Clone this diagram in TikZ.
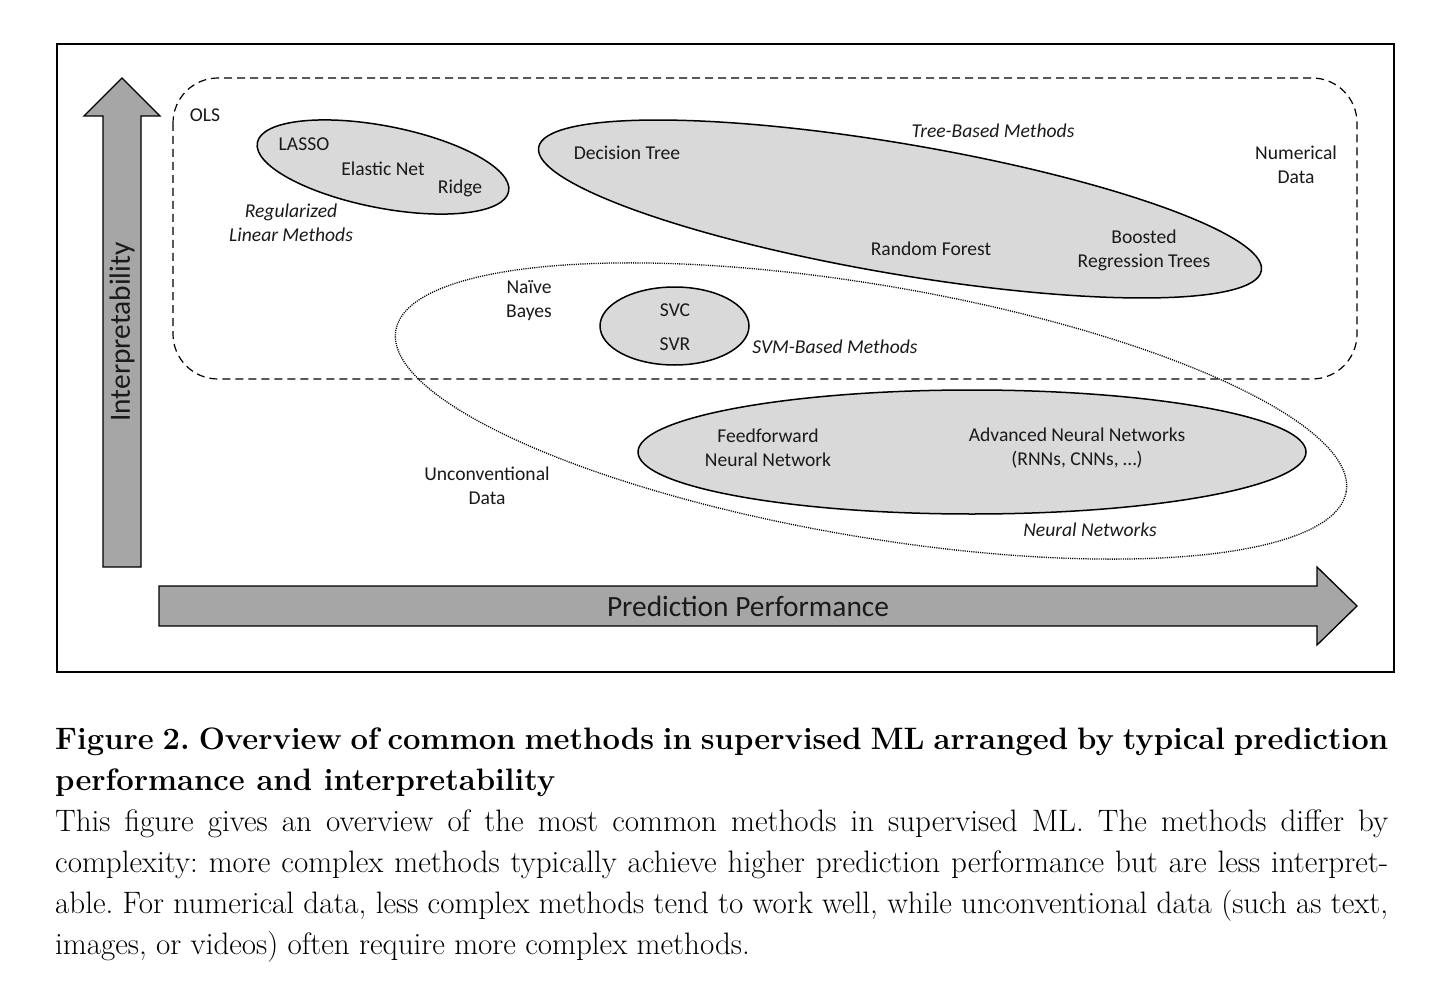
\documentclass[tikz,border=0pt]{standalone}
\usepackage{fontspec}
\newfontfamily\carlito{Carlito}
\definecolor{ellgray}{HTML}{D9D9D9}
\definecolor{arrgray}{HTML}{A6A6A6}
\definecolor{txt}{HTML}{1A1A1A}
\begin{document}
\begin{tikzpicture}[x=1pt,y=-1pt,
  lbl/.style={font=\carlito\fontsize{19.6}{24}\selectfont, align=center, inner sep=0, text=txt},
  ilbl/.style={lbl, font=\carlito\itshape\fontsize{19.6}{24}\selectfont},
  bigl/.style={font=\carlito\fontsize{29.4}{34}\selectfont, inner sep=0, text=txt},
  method/.style={draw=black, fill=ellgray, line width=1.5pt},
  arrowshape/.style={draw=black, fill=arrgray, line width=1.3pt, line join=miter},
  groupbox/.style={draw=black, line width=1.2pt, dash pattern=on 8pt off 5pt},
  groupdots/.style={draw=black, line width=1.3pt, dash pattern=on 1.1pt off 1.1pt},
]
\useasboundingbox (0,0) rectangle (1450,1008);
\fill[white] (0,0) rectangle (1450,1008);
% frame
\draw[line width=2.2pt] (57,44) rectangle (1394,672);
% numerical data group
\draw[groupbox, rounded corners=45pt] (173,78) rectangle (1357,379);
% unconventional data group
\draw[groupdots, shift={(871,411)}, rotate=-9.63] (0,0) ellipse [x radius=482pt, y radius=126pt];
% method ellipses
\draw[method, shift={(383,167)}, rotate=-11] (0,0) ellipse [x radius=128pt, y radius=41pt];
\draw[method, shift={(900,209)}, rotate=-9.68] (0,0) ellipse [x radius=366.6pt, y radius=65.1pt];
\draw[method] (674.5,326) ellipse [x radius=74.5pt, y radius=39pt];
\draw[method] (972,452) ellipse [x radius=334pt, y radius=62pt];
% axes arrows
\draw[arrowshape] (103,567) -- (103,116) -- (84,116) -- (122,78) -- (160,116) -- (141,116) -- (141,567) -- cycle;
\draw[arrowshape] (159,586) -- (1317,586) -- (1317,567) -- (1357,606) -- (1317,645) -- (1317,626) -- (159,626) -- cycle;
\node[bigl, rotate=90] (interp) at (122,332) {Interpretability};
\node[bigl] (perf) at (748,606) {Prediction Performance};
% labels
\node[lbl] (ols) at (205,115) {OLS};
\node[lbl] (lasso) at (304,144) {LASSO};
\node[lbl] (enet) at (383,169) {Elastic Net};
\node[lbl] (ridge) at (460,188) {Ridge};
\node[ilbl] (reg) at (291,223) {Regularized\\Linear Methods};
\node[ilbl] (tree) at (993,131) {Tree-Based Methods};
\node[lbl] (dt) at (627,153) {Decision Tree};
\node[lbl] (num) at (1296,165) {Numerical\\Data};
\node[lbl] (rf) at (931,249) {Random Forest};
\node[lbl] (brt) at (1144,250) {Boosted\\Regression Trees};
\node[lbl] (nb) at (529,301) {Naïve\\Bayes};
\node[lbl] (svc) at (675,310) {SVC};
\node[lbl] (svr) at (675,344) {SVR};
\node[ilbl] (svm) at (835,347) {SVM-Based Methods};
\node[lbl] (ffnn) at (768,448) {Feedforward\\Neural Network};
\node[lbl] (adv) at (1077,448) {Advanced Neural Networks\\(RNNs, CNNs, …)};
\node[lbl] (unconv) at (487,486) {Unconventional\\Data};
\node[ilbl] (nn) at (1090,530) {Neural Networks};
% caption
\node[anchor=base west, inner sep=0] (cap) at (55,749) {\parbox[t]{1333pt}{\fontsize{31}{41}\selectfont\frenchspacing\hyphenpenalty=10000\emergencystretch=40pt
\textbf{Figure 2. Overview of common methods in supervised ML arranged by typical prediction\linebreak performance and interpretability}\par
This figure gives an overview of the most common methods in supervised ML. The methods differ by\linebreak complexity: more complex methods typically achieve higher prediction performance but are less interpret-\linebreak able. For numerical data, less complex methods tend to work well, while unconventional data (such as text,\linebreak images, or videos) often require more complex methods.}};
\end{tikzpicture}
\end{document}
